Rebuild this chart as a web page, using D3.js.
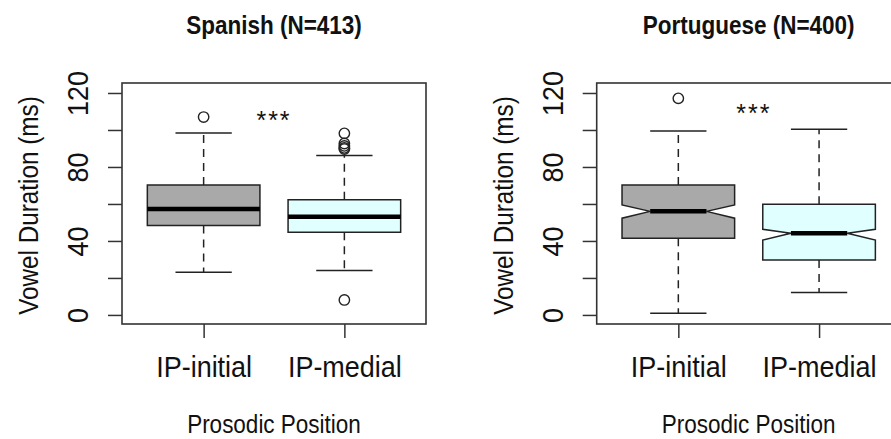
<!DOCTYPE html>
<html>
<head>
<meta charset="utf-8">
<script src="https://cdn.jsdelivr.net/npm/d3@7"></script>
<style>
  body { margin: 0; background: #fff; }
  svg text { font-family: "Liberation Sans", Arial, Helvetica, sans-serif; fill: #111; }
</style>
</head>
<body>
<div id="chart"></div>
<script>
// data (ms)
const categories = ["IP-initial", "IP-medial"];
const yTicks = [0, 20, 40, 60, 80, 100, 120];
const yLabelTicks = [0, 40, 80, 120];

const spanishQ1 = [48.3, 44.7];
const spanishMedian = [57.3, 53.1];
const spanishQ3 = [70.3, 62.3];
const spanishWhiskerLo = [23.1, 24.0];
const spanishWhiskerHi = [98.4, 86.2];
const spanishOutliers = [[107.0], [98.2, 92.7, 91.4, 90.3, 89.7, 8.1]];

const portugueseQ1 = [41.4, 29.7];
const portugueseMedian = [56.0, 44.2];
const portugueseQ3 = [70.3, 59.8];
const portugueseNotchLo = [52.3, 40.5];
const portugueseNotchHi = [59.5, 46.3];
const portugueseWhiskerLo = [0.9, 12.1];
const portugueseWhiskerHi = [99.5, 100.4];
const portugueseOutliers = [[117.1], []];

const W = 891, H = 439;
const plotW = 304, plotTop = 83, plotBottom = 324;
const fills = ["#a9a9a9", "#e0ffff"];
const ink = "#222";
const narrow = 0.9; // the original font is a bit condensed

const svg = d3.select("#chart").append("svg")
  .attr("width", W)
  .attr("height", H);

function boxStats(q1, med, q3, lo, hi, out, nlo, nhi) {
  return categories.map((c, i) => ({
    cat: c, i: i + 1, q1: q1[i], med: med[i], q3: q3[i], lo: lo[i], hi: hi[i],
    out: out[i], nlo: nlo ? nlo[i] : null, nhi: nhi ? nhi[i] : null
  }));
}

function drawPanel(p) {
  const g = svg.append("g").attr("transform", `translate(${p.left},0)`);
  const x = d3.scaleLinear().domain([0.42, 2.58]).range([0, plotW]);
  const y = d3.scaleLinear().domain([-4.9, 125.4]).range([plotBottom, plotTop]);
  const hw = x(1.4) - x(1); // half box width

  const box = g.selectAll("g.box").data(p.stats).enter().append("g").attr("class", "box");

  // whiskers
  box.append("line")
    .attr("x1", d => x(d.i)).attr("x2", d => x(d.i))
    .attr("y1", d => y(d.q3)).attr("y2", d => y(d.hi))
    .attr("stroke", ink).attr("stroke-width", 1.5).attr("stroke-dasharray", "8,6");
  box.append("line")
    .attr("x1", d => x(d.i)).attr("x2", d => x(d.i))
    .attr("y1", d => y(d.q1)).attr("y2", d => y(d.lo))
    .attr("stroke", ink).attr("stroke-width", 1.5).attr("stroke-dasharray", "8,6");
  ["hi", "lo"].forEach(k => {
    box.append("line")
      .attr("x1", d => x(d.i) - hw / 2).attr("x2", d => x(d.i) + hw / 2)
      .attr("y1", d => y(d[k])).attr("y2", d => y(d[k]))
      .attr("stroke", ink).attr("stroke-width", 1.5);
  });

  // box body (notched or plain)
  box.append("path")
    .attr("d", d => {
      const x0 = x(d.i) - hw, x1 = x(d.i) + hw;
      let pts;
      if (p.notch) {
        pts = [[x0, y(d.q1)], [x0, y(d.nlo)], [x0 + hw / 2, y(d.med)], [x0, y(d.nhi)], [x0, y(d.q3)],
               [x1, y(d.q3)], [x1, y(d.nhi)], [x1 - hw / 2, y(d.med)], [x1, y(d.nlo)], [x1, y(d.q1)]];
      } else {
        pts = [[x0, y(d.q1)], [x0, y(d.q3)], [x1, y(d.q3)], [x1, y(d.q1)]];
      }
      return d3.line()(pts) + "Z";
    })
    .attr("fill", (d, i) => fills[i])
    .attr("stroke", ink).attr("stroke-width", 1.5);

  // median
  box.append("line")
    .attr("x1", d => x(d.i) - (p.notch ? hw / 2 : hw))
    .attr("x2", d => x(d.i) + (p.notch ? hw / 2 : hw))
    .attr("y1", d => y(d.med)).attr("y2", d => y(d.med))
    .attr("stroke", "#000").attr("stroke-width", 4.5);

  // outliers
  box.selectAll("circle").data(d => d.out.map(v => ({ i: d.i, v }))).enter().append("circle")
    .attr("cx", d => x(d.i)).attr("cy", d => y(d.v)).attr("r", 5.2)
    .attr("fill", "none").attr("stroke", ink).attr("stroke-width", 1.4);

  // frame
  g.append("rect")
    .attr("x", 0).attr("y", plotTop)
    .attr("width", plotW).attr("height", plotBottom - plotTop)
    .attr("fill", "none").attr("stroke", "#333").attr("stroke-width", 1.6);

  // y axis
  const yAxis = g.append("g")
    .call(d3.axisLeft(y).tickValues(yTicks).tickSize(14)
      .tickFormat(v => yLabelTicks.includes(v) ? v : ""));
  yAxis.select(".domain").remove();
  yAxis.selectAll(".tick line").attr("stroke", "#333").attr("stroke-width", 1.5);
  yAxis.selectAll(".tick text")
    .attr("x", null).attr("dy", null)
    .attr("text-anchor", "middle")
    .attr("transform", `translate(-34,0) rotate(-90) scale(${narrow},1)`)
    .style("font-size", "30px").attr("fill", "#111");

  // x axis
  const xAxis = g.append("g").attr("transform", `translate(0,${plotBottom})`)
    .call(d3.axisBottom(x).tickValues([1, 2]).tickSize(14)
      .tickFormat(v => categories[v - 1]));
  xAxis.select(".domain").remove();
  xAxis.selectAll(".tick line").attr("stroke", "#333").attr("stroke-width", 1.5);
  xAxis.selectAll(".tick text")
    .attr("y", 53).attr("dy", null)
    .attr("transform", `scale(${narrow},1)`)
    .style("font-size", "30px").attr("fill", "#111");

  // titles
  g.append("text")
    .attr("text-anchor", "middle")
    .attr("transform", `translate(${plotW / 2},33.5) scale(${narrow},1)`)
    .style("font-size", "25px").style("font-weight", "bold")
    .text(p.title);
  g.append("text")
    .attr("text-anchor", "middle")
    .attr("transform", `translate(${plotW / 2},433) scale(${narrow},1)`)
    .style("font-size", "25px")
    .text("Prosodic Position");
  g.append("text")
    .attr("text-anchor", "middle")
    .attr("transform", `translate(-84,${(plotTop + plotBottom) / 2 + 2}) rotate(-90) scale(${narrow},1)`)
    .style("font-size", "27px")
    .text("Vowel Duration (ms)");

  // significance stars
  g.append("text")
    .attr("text-anchor", "middle")
    .attr("x", x(p.starX)).attr("y", y(p.starY))
    .style("font-size", "25px").style("letter-spacing", "2px")
    .text("***");
}

drawPanel({
  title: "Spanish (N=413)", left: 122, notch: false, starX: 1.5, starY: 100.5,
  stats: boxStats(spanishQ1, spanishMedian, spanishQ3, spanishWhiskerLo, spanishWhiskerHi, spanishOutliers)
});
drawPanel({
  title: "Portuguese (N=400)", left: 596.7, notch: true, starX: 1.536, starY: 104.3,
  stats: boxStats(portugueseQ1, portugueseMedian, portugueseQ3, portugueseWhiskerLo, portugueseWhiskerHi,
    portugueseOutliers, portugueseNotchLo, portugueseNotchHi)
});
</script>
</body>
</html>
